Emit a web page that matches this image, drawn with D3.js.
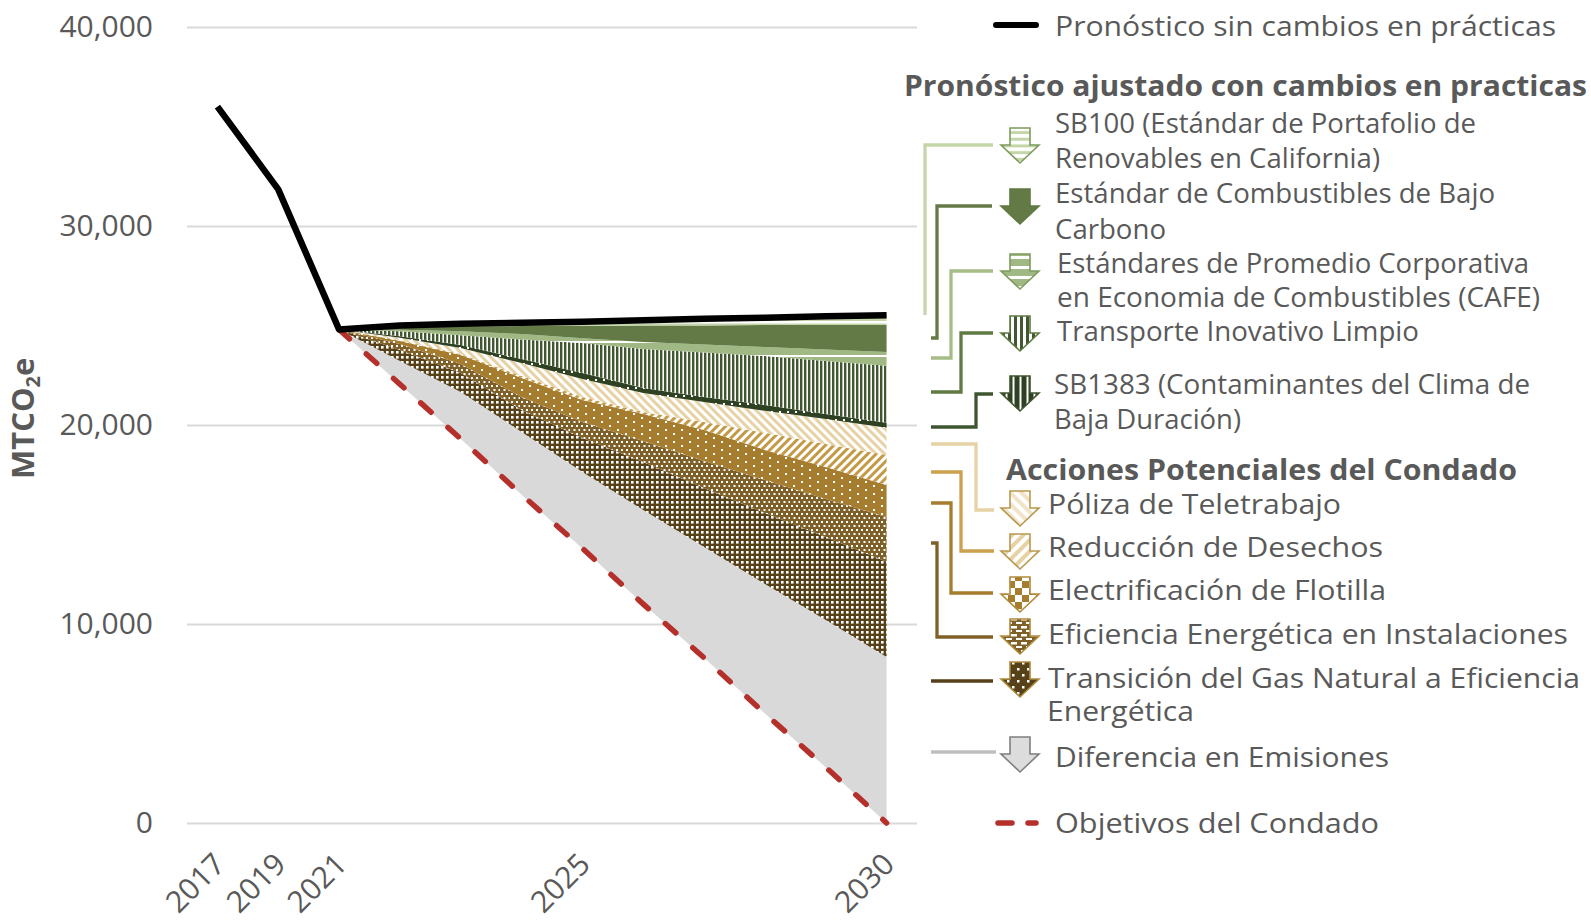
<!DOCTYPE html>
<html><head><meta charset="utf-8">
<script src="https://cdn.jsdelivr.net/npm/d3@7/dist/d3.min.js"></script>
<style>html,body{margin:0;padding:0;background:#fff;overflow:hidden}svg{display:block}text{font-family:"Open Sans",sans-serif;fill:#595959}</style>
</head><body><svg id="c" width="1591" height="920"></svg>
<script>
const categories=["2017","2019","2021","2022","2023","2024","2025","2026","2027","2028","2029","2030"];
const tickLabels=["2017","2019","2021","2025","2030"];
const yTicks=[0,10000,20000,30000,40000];
const forecastYears=["2021","2022","2023","2024","2025","2026","2027","2028","2029","2030"];
const bauValues=[36000,31840,24800,25000,25090,25140,25190,25260,25340,25390,25470,25510];
const targetValues=[24800,22050,19300,16500,13800,11000,8300,5500,2800,0];
const gapValues=[0,1165,2360,3150,3840,4730,5570,6510,7400,8340];
const gasValues=[0,550,955,1105,1710,2410,2965,3570,4170,4790];
const efficiencyValues=[0,300,450,655,805,1055,1355,1660,1910,2245];
const fleetValues=[0,150,450,955,1105,1355,1560,1510,1610,1610];
const wasteValues=[0,50,50,100,150,100,400,855,1155,1510];
const teleworkValues=[0,125,300,650,905,955,1005,1105,1255,1370];
const sb1383Values=[0,75,150,200,300,250,250,300,250,250];
const transportValues=[0,250,500,980,1510,1960,2235,2460,2665,2865];
const cafeValues=[0,75,200,275,230,350,400,450,580,690];
const lcfsValues=[0,125,225,400,620,830,955,1105,1230,1355];
const sb100Values=[0,65,125,150,200,250,325,350,425,490];

const legendBau="Pronóstico sin cambios en prácticas";
const legendHeadA="Pronóstico ajustado con cambios en practicas";
const legendHeadB="Acciones Potenciales del Condado";
const legendSb100=["SB100 (Estándar de Portafolio de","Renovables en California)"];
const legendLcfs=["Estándar de Combustibles de Bajo","Carbono"];
const legendCafe=["Estándares de Promedio Corporativa","en Economia de Combustibles (CAFE)"];
const legendTransport=["Transporte Inovativo Limpio"];
const legendSb1383=["SB1383 (Contaminantes del Clima de","Baja Duración)"];
const legendTele=["Póliza de Teletrabajo"];
const legendWaste=["Reducción de Desechos"];
const legendFleet=["Electrificación de Flotilla"];
const legendEff=["Eficiencia Energética en Instalaciones"];
const legendGas=["Transición del Gas Natural a Eficiencia","Energética"];
const legendGap=["Diferencia en Emisiones"];
const legendTarget=["Objetivos del Condado"];

const svg=d3.select("#c");
const defs=svg.append("defs");
function pat(id,w,h,bg,shapes,rot){
  const p=defs.append("pattern").attr("id",id).attr("patternUnits","userSpaceOnUse").attr("width",w).attr("height",h);
  if(rot)p.attr("patternTransform","rotate("+rot+")");
  p.append("rect").attr("width",w).attr("height",h).attr("fill",bg);
  shapes.forEach(s=>p.append("rect").attr("x",s[0]).attr("y",s[1]).attr("width",s[2]).attr("height",s[3]).attr("fill",s[4]||"#fff"));
  return "url(#"+id+")";
}
const C={sb100:"#c4d6a9",lcfs:"#647a46",cafe:"#9fb884",transport:"#41572f",sb1383:"#2e4122",tele:"#e6d2a5",waste:"#c49a46",fleet:"#a67c2e",eff:"#7f6029",gas:"#574119",gap:"#d9d9d9"};
const F={
 sb100:pat("a1",10,9,C.sb100,[[0,6,10,2.5]]),
 lcfs:C.lcfs,
 cafe:pat("a2",10,14,C.cafe,[[0,5,10,2]]),
 transport:pat("a3",4,4,C.transport,[[2.4,0,1.6,4]]),
 sb1383:pat("a4",8,8,C.sb1383,[[3,3,2,2]]),
 tele:pat("a5",6,6,C.tele,[[0,0,3,6]],-45),
 waste:pat("a6",6,6,C.waste,[[0,0,3,6]],45),
 fleet:pat("a7",16,8,C.fleet,[[1,1,2,2],[9,5,2,2]]),
 eff:pat("a8",10,8,C.eff,[[1,1,2,2],[6,1,2,2],[3.5,5,2,2],[8.5,5,2,2]]),
 gas:pat("a9",5,5,C.gas,[[1,1,2.6,2.6]]),
 gap:C.gap
};
const L={
 sb100:pat("l1",6,6.7,"#c4d6a9",[[0,0,6,3.7]]),
 lcfs:C.lcfs,
 cafe:pat("l2",6,10,C.cafe,[[0,6,6,3]]),
 transport:pat("l3",6,6,C.transport,[[3,0,3,6]]),
 sb1383:pat("l4",7,7,C.sb1383,[[4.5,0,2,7]]),
 tele:pat("l5",8,8,"#f0e3c8",[[0,0,4,8]],-45),
 waste:pat("l6",8,8,"#e6d2a5",[[0,0,4,8]],45),
 fleet:pat("l7",14,14,C.fleet,[[0,0,7,7],[7,7,7,7]]),
 eff:pat("l8",10,8,C.eff,[[1,2,6,2.5],[6,6,6,2.5],[-4,6,6,2.5]]),
 gas:pat("l9",10,12,C.gas,[[2,2,2.5,2.5],[7,8,2.5,2.5]]),
 gap:"#dcdcdc"
};

const x=d3.scalePoint().domain(categories).range([187,917]).padding(0.5);
const y=d3.scaleLinear().domain([0,40000]).range([823,27]);

const yAxis=svg.append("g").attr("transform","translate(187,0)")
  .call(d3.axisLeft(y).tickValues(yTicks).tickSize(-730).tickPadding(34).tickFormat(d3.format(",")));
yAxis.select(".domain").remove();
yAxis.selectAll("line").attr("stroke","#d9d9d9").attr("stroke-width",2);
yAxis.selectAll("text").attr("font-size",30).attr("fill","#595959").style("font-family","'Open Sans',sans-serif");

const xAxis=svg.append("g").attr("transform","translate(0,823)")
  .call(d3.axisBottom(x).tickValues(tickLabels).tickSize(0));
xAxis.select(".domain").remove();
xAxis.selectAll("text").attr("font-size",30).attr("text-anchor","end").attr("fill","#595959").style("font-family","'Open Sans',sans-serif")
  .attr("x",0).attr("y",0).attr("dy",0).attr("transform","translate(9,43) rotate(-45)");

const keys=["target","gap","gas","eff","fleet","waste","tele","sb1383","transport","cafe","lcfs","sb100"];
const src={target:targetValues,gap:gapValues,gas:gasValues,eff:efficiencyValues,fleet:fleetValues,waste:wasteValues,tele:teleworkValues,sb1383:sb1383Values,transport:transportValues,cafe:cafeValues,lcfs:lcfsValues,sb100:sb100Values};
const rows=forecastYears.map((yr,i)=>{const r={year:yr};keys.forEach(k=>r[k]=src[k][i]);return r;});
const stack=d3.stack().keys(keys)(rows);
const area=d3.area().x(d=>x(d.data.year)).y0(d=>y(d[0])).y1(d=>y(d[1]));
svg.append("g").selectAll("path").data(stack.filter(s=>s.key!=="target")).join("path")
  .attr("d",area).attr("fill",s=>F[s.key]);

const line=d3.line().x(d=>x(d[0])).y(d=>y(d[1]));
svg.append("path").attr("d",line(forecastYears.map((yr,i)=>[yr,targetValues[i]])))
  .attr("fill","none").attr("stroke","#b5302a").attr("stroke-width",5.5).attr("stroke-linecap","round").attr("stroke-dasharray","14 22.6");
svg.append("path").attr("d",line(categories.map((c,i)=>[c,bauValues[i]])))
  .attr("fill","none").attr("stroke","#000").attr("stroke-width",6.5).attr("stroke-linejoin","round");

svg.append("text").attr("transform","translate(34,479) rotate(-90)").attr("font-size",31).attr("font-weight",700)
  .html('MTCO<tspan font-size="20" dy="6">2</tspan><tspan dy="-6">e</tspan>');

// leaders
const leaders=[
 ["#c4d6a9",[[993,145],[925,145],[925,315]]],
 [C.lcfs,[[992,206],[937,206],[937,338],[931,338]]],
 ["#a7bd88",[[993,271],[951,271],[951,358],[931,358]]],
 ["#5f7a43",[[993,333],[961,333],[961,392],[931,392]]],
 ["#3f5530",[[993,394],[976,394],[976,427],[931,427]]],
 ["#e6d2a5",[[931,444],[976,444],[976,510],[994,510]]],
 ["#cba14e",[[931,472],[961,472],[961,551],[994,551]]],
 ["#a67c2e",[[931,503],[951,503],[951,593],[993,593]]],
 ["#7f6028",[[931,543],[937,543],[937,637],[993,637]]],
 ["#54401a",[[931,681],[993,681]]],
 ["#bfbfbf",[[931,752],[996,752]]]
];
svg.append("g").selectAll("path").data(leaders).join("path")
 .attr("d",d=>d3.line()(d[1])).attr("fill","none").attr("stroke",d=>d[0]).attr("stroke-width",3.3);

// arrows
const arrows=[
 ["sb100",128,"#7d9b5c"],["lcfs",189,"#5f7a43"],["cafe",254,"#7d9b5c"],["transport",316,"#5f7a43"],["sb1383",376,"#3f5530"],
 ["tele",491,"#b9964e"],["waste",534,"#b9964e"],["fleet",577,"#b08a3c"],["eff",619,"#b08a3c"],["gas",662,"#b08a3c"],["gap",737,"#7f7f7f"]
];
function arrowPath(t){const c=1020;return d3.line()([[c-10,t],[c+10,t],[c+10,t+17],[c+19,t+17],[c,t+35],[c-19,t+17],[c-10,t+17]])+"Z";}
svg.append("g").selectAll("path").data(arrows).join("path")
 .attr("d",d=>arrowPath(d[1])).attr("fill",d=>L[d[0]]).attr("stroke",d=>d[2]).attr("stroke-width",1.6);

// legend swatches
svg.append("line").attr("x1",996).attr("x2",1036).attr("y1",25).attr("y2",25).attr("stroke","#000").attr("stroke-width",6).attr("stroke-linecap","round");
svg.append("line").attr("x1",998).attr("x2",1036).attr("y1",823).attr("y2",823).attr("stroke","#b5302a").attr("stroke-width",5.5).attr("stroke-linecap","round").attr("stroke-dasharray","14 16");

// legend text: text, x, baseline, right end
const legendLayout=[
 [legendBau,1055,36,1556,false],
 [legendHeadA,904,96,1587,true],
 [legendSb100[0],1055,133,1476,false],[legendSb100[1],1055,168,1380,false],
 [legendLcfs[0],1055,203,1495,false],[legendLcfs[1],1055,239,1166,false],
 [legendCafe[0],1057,273,1529,false],[legendCafe[1],1057,307,1540,false],
 [legendTransport[0],1057,341,1419,false],
 [legendSb1383[0],1054,394,1530,false],[legendSb1383[1],1054,429,1241,false],
 [legendHeadB,1006,480,1517,true],
 [legendTele[0],1048,514,1341,false],
 [legendWaste[0],1048,557,1383,false],
 [legendFleet[0],1048,600,1386,false],
 [legendEff[0],1048,644,1568,false],
 [legendGas[0],1048,688,1580,false],[legendGas[1],1047,721,1194,false],
 [legendGap[0],1055,767,1389,false],
 [legendTarget[0],1055,833,1379,false]
];
svg.append("g").selectAll("text").data(legendLayout).join("text")
 .attr("x",d=>d[1]).attr("y",d=>d[2]).text(d=>d[0])
 .attr("font-size",d=>d[4]?28:27.5).attr("font-weight",d=>d[4]?700:400)
 .attr("textLength",d=>d[3]-d[1]).attr("lengthAdjust","spacingAndGlyphs");
</script></body></html>
